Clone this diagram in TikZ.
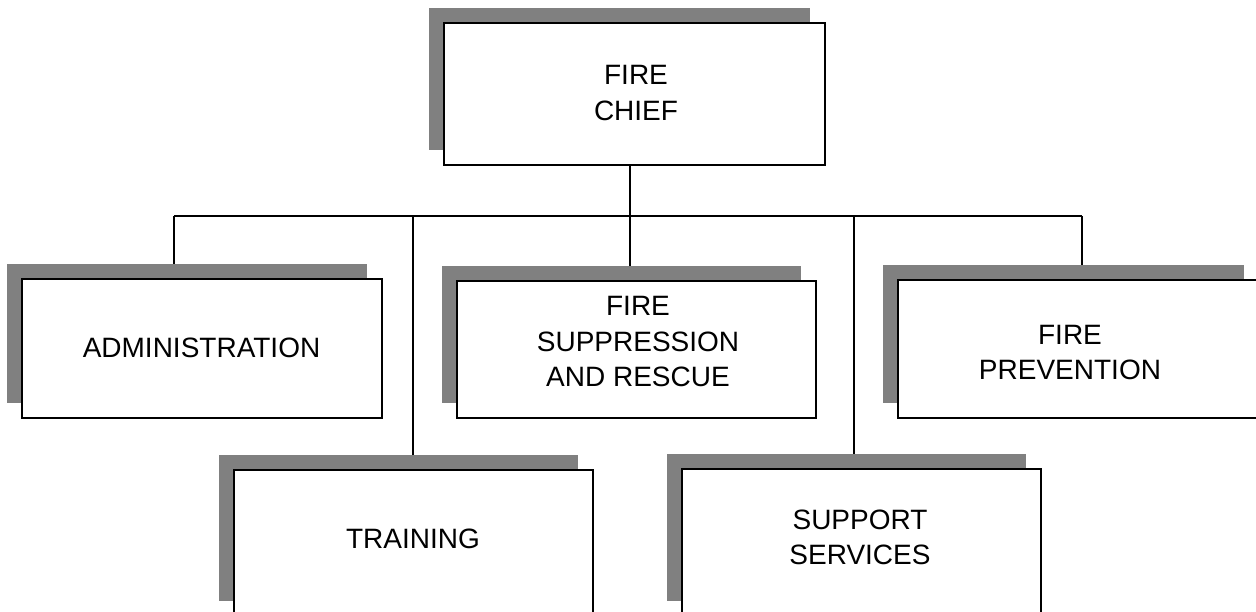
\documentclass[tikz,border=0pt]{standalone}
\usepackage{fontspec}
\setmainfont{Liberation Sans}
\usetikzlibrary{shadows,backgrounds}
\definecolor{shadowgray}{HTML}{808080}
\begin{document}
\begin{tikzpicture}[x=1pt,y=-1pt,
  unit/.style 2 args={draw=black, line width=2pt, fill=white, inner sep=0pt,
    minimum width=#1, minimum height=#2,
    drop shadow={shadow xshift=-15pt, shadow yshift=15pt, fill=shadowgray,
      opacity=1, draw=none}},
  caption/.style={align=center, inner sep=0pt,
    font=\fontsize{28}{35.5}\selectfont},
  wire/.style={draw=black, line width=1.5pt}]
\useasboundingbox (0,0) rectangle (1256,612);

% boxes with their offset shadows
\node[unit={381}{142}] (chief)   at (634.5,94)  {};
\node[unit={360}{139}] (admin)   at (202,348.5) {};
\node[unit={359}{137}] (supp)    at (636.5,349.5) {};
\node[unit={361}{138}] (prev)    at (1078.5,349) {};
\node[unit={359}{146}] (train)   at (413.5,543) {};
\node[unit={359}{147}] (support) at (861.5,542.5) {};

% box titles
\node[caption] (chiefT)   at (636,93)     {FIRE\\CHIEF};
\node[caption] (adminT)   at (201.5,347.5) {ADMINISTRATION};
\node[caption] (suppT)    at (638,342)    {FIRE\\SUPPRESSION\\AND RESCUE};
\node[caption] (prevT)    at (1070,352.5) {FIRE\\PREVENTION};
\node[caption] (trainT)   at (413,539)    {TRAINING};
\node[caption] (supportT) at (860,537.5)  {SUPPORT\\SERVICES};

% junction points on the distribution bus
\coordinate (busL)   at (174,216);
\coordinate (busR)   at (1082,216);
\coordinate (trunk)  at (630,216);
\coordinate (trainJ) at (413,216);
\coordinate (suppJ)  at (854,216);

\begin{pgfonlayer}{background}
  \fill[white] (0,0) rectangle (1256,612);
  \draw[wire] (chief.south -| trunk) -- (supp.north -| trunk);
  \draw[wire] (busL) -- (busR);
  \draw[wire] (busL) -- (admin.north -| busL);
  \draw[wire] (trainJ) -- (train.north -| trainJ);
  \draw[wire] (suppJ) -- (support.north -| suppJ);
  \draw[wire] (busR) -- (prev.north -| busR);
\end{pgfonlayer}
\end{tikzpicture}
\end{document}
